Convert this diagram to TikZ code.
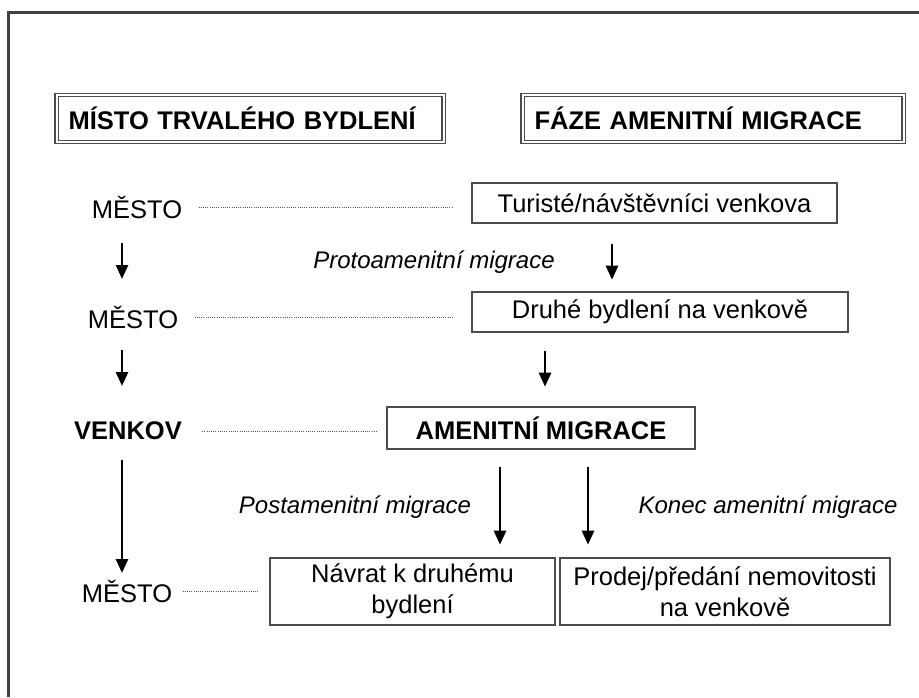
\documentclass[tikz,border=0pt]{standalone}
\usepackage{fontspec}
\setmainfont{Liberation Sans}
\usetikzlibrary{arrows.meta}

\tikzset{
  txt/.style={font=\fontsize{12.75}{15.5}\selectfont, inner sep=0pt},
  itl/.style={font=\fontsize{12}{14}\selectfont\itshape, inner sep=0pt},
  box/.style={draw=black!70, line width=0.7pt, txt, align=center},
  head/.style={draw=black!70, line width=0.6pt, double, double distance=1.1pt,
    font=\fontsize{12.75}{15}\selectfont\bfseries, inner xsep=6pt, inner ysep=0pt,
    minimum height=23.5pt, align=left, anchor=west},
  dots/.style={draw=black!65, line width=0.5pt, dash pattern=on 0.5pt off 0.6pt},
  arr/.style={line width=1.3pt, -{Triangle[width=6pt,length=7pt]}}
}

\begin{document}
\begin{tikzpicture}[x=0.5pt, y=-0.5pt]
    \useasboundingbox (0,0) rectangle (919,697);

    % outer frame
    \draw[line width=1.3pt, black!75] (8.5,697) -- (8.5,12.5) -- (919,12.5);

    % headings
    \node[head, text width=181.5pt] (h1) at (56,118.5) {MÍSTO TRVALÉHO BYDLENÍ};
    \node[head, text width=178.5pt] (h2) at (522,118.5) {FÁZE AMENITNÍ MIGRACE};

    % left column
    \node[txt] (m1) at (137,207) {MĚSTO};
    \node[txt] (m2) at (133,317) {MĚSTO};
    \node[txt, font=\fontsize{12.75}{15}\selectfont\bfseries] (v3) at (128,431) {VENKOV};
    \node[txt] (m4) at (127,591) {MĚSTO};

    % right column
    \node[box, minimum width=182.5pt, minimum height=20pt] (b1) at (654.5,203) {Turisté/návštěvníci venkova};
    \node[box, minimum width=188pt, minimum height=20pt] (b2) at (660,312) {Druhé bydlení na venkově};
    \node[box, minimum width=154pt, minimum height=21pt,
      font=\fontsize{12.75}{15}\selectfont\bfseries] (b3) at (541,428) {AMENITNÍ MIGRACE};
    \node[box, minimum width=142.5pt, minimum height=33.5pt] (b4) at (412.5,591.5) {Návrat k druhému\\bydlení};
    \node[box, minimum width=165pt, minimum height=33.5pt] (b5) at (725,591.5) {Prodej/předání nemovitosti\\na venkově};

    % dotted links
    \draw[dots, shorten <=8pt, shorten >=9pt] (m1) -- (b1.west |- m1);
    \draw[dots, shorten <=8pt, shorten >=9pt] (m2) -- (b2.west |- m2);
    \draw[dots, shorten <=10pt, shorten >=4.5pt] (v3) -- (b3.west |- v3);
    \draw[dots, shorten <=5pt, shorten >=5pt] (m4) -- (b4.west |- m4);

    % arrows
    \coordinate (l1a) at (122,243);  \coordinate (l1b) at (122,279);
    \coordinate (l2a) at (122,350);  \coordinate (l2b) at (122,386);
    \coordinate (l3a) at (122,460);  \coordinate (l3b) at (122,573);
    \draw[arr] (l1a) -- (l1b);
    \draw[arr] (l2a) -- (l2b);
    \draw[arr] (l3a) -- (l3b);

    \draw[arr] (b1.south -| 612,0) ++(0,20) -- ++(0,36);
    \draw[arr] (b2.south -| 545,0) ++(0,18) -- ++(0,36);
    \draw[arr] (b3.south -| 500,0) ++(0,17) -- ++(0,78);
    \draw[arr] (b3.south -| 588,0) ++(0,17) -- ++(0,78);

    % phase labels
    \node[itl] (p1) at (434,262) {Protoamenitní migrace};
    \node[itl] (p2) at (355,507) {Postamenitní migrace};
    \node[itl] (p3) at (768,507) {Konec amenitní migrace};
\end{tikzpicture}
\end{document}
